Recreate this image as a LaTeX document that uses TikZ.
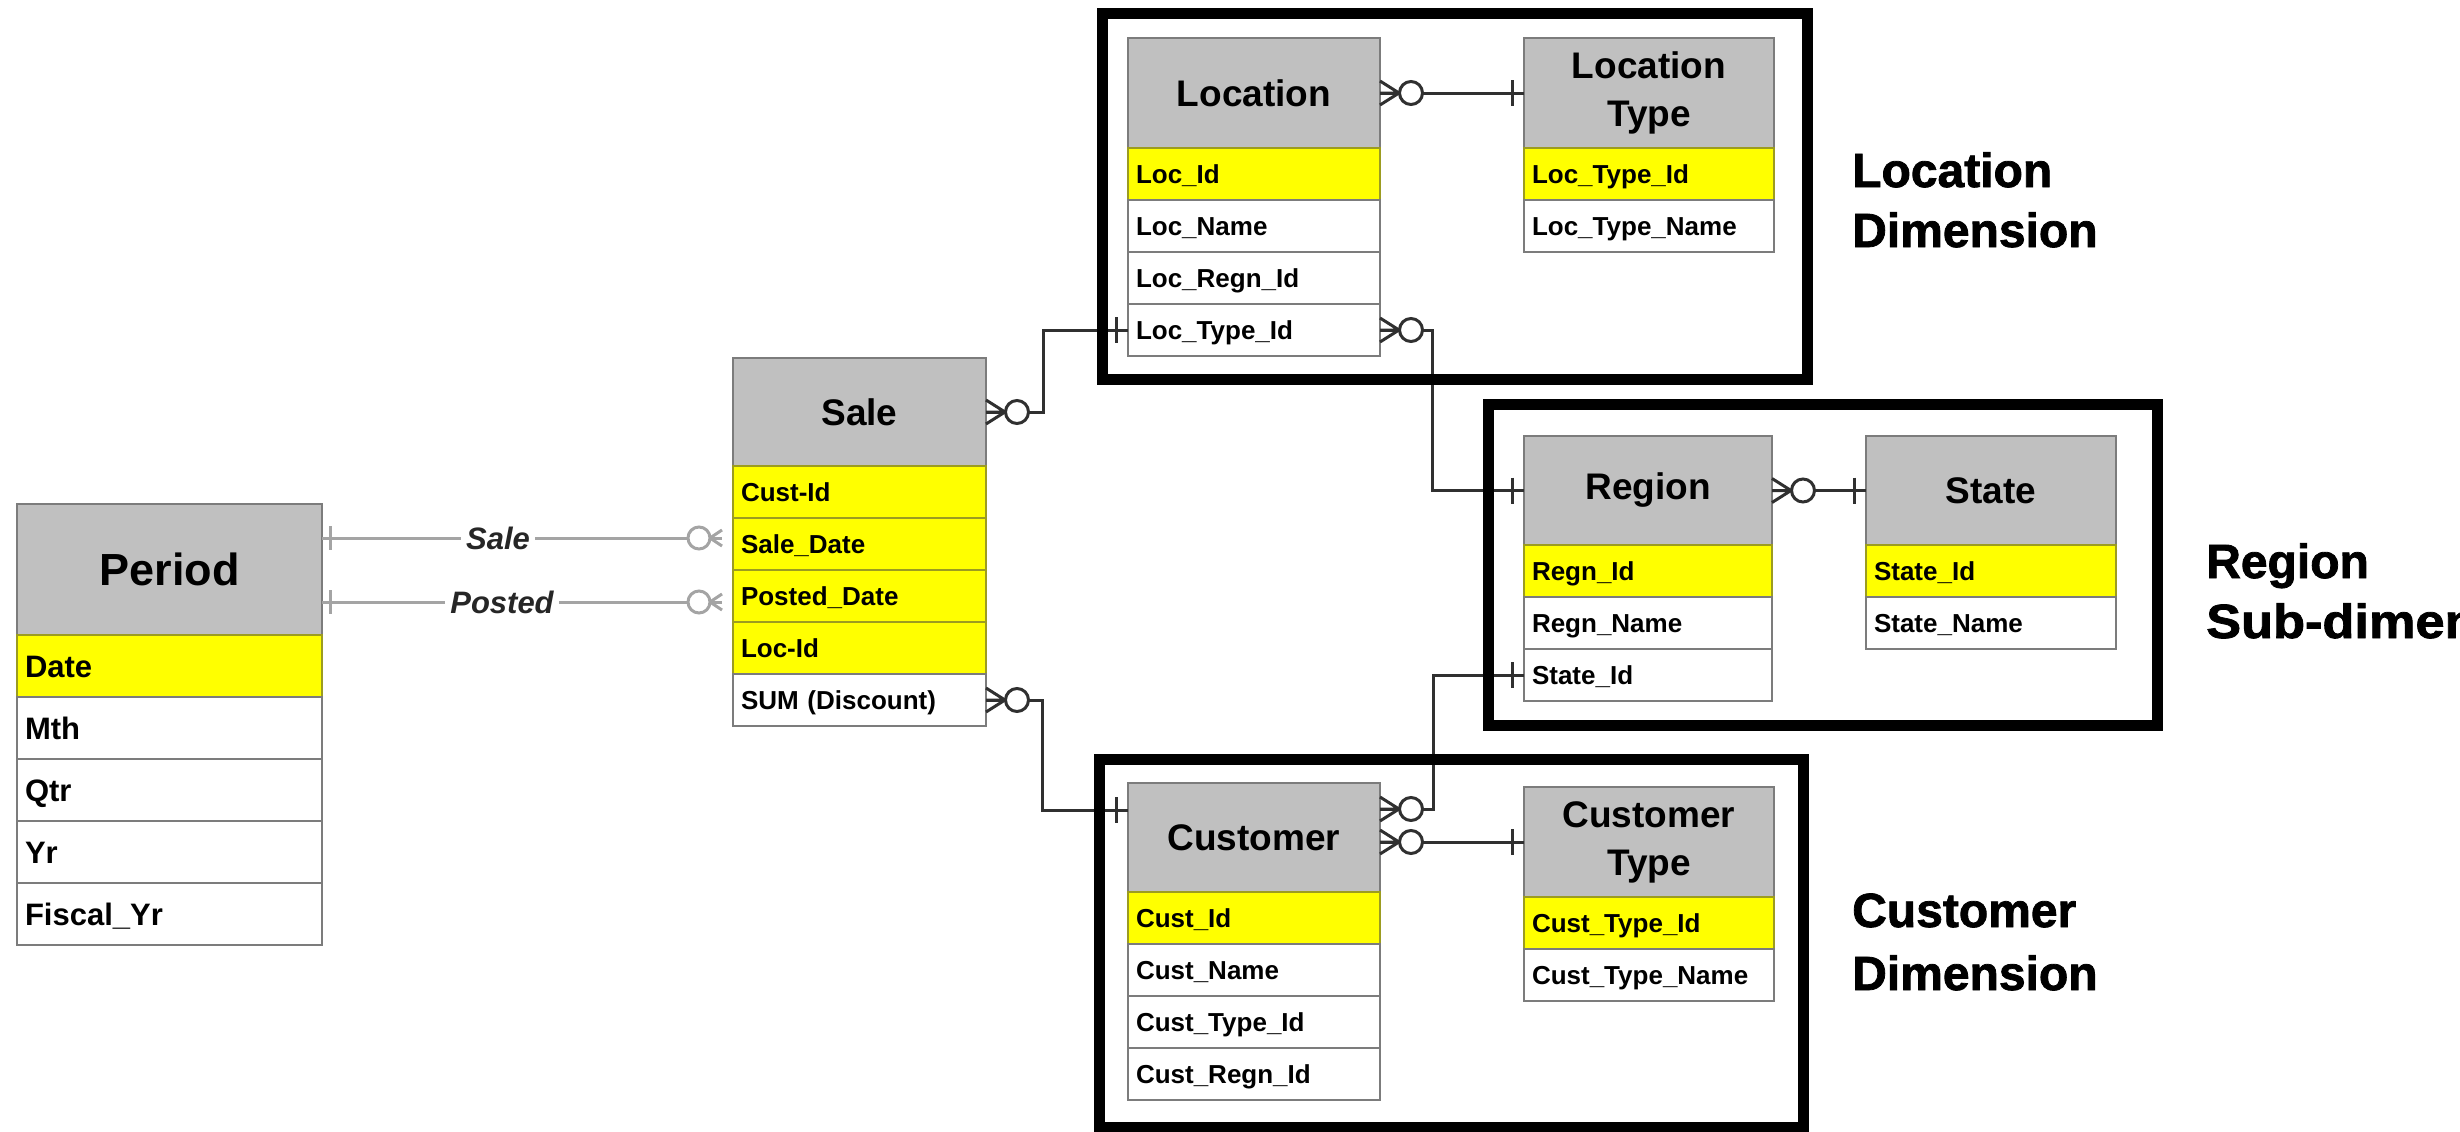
\documentclass[tikz,border=0pt]{standalone}
\usepackage{fontspec}
\setmainfont{Liberation Sans}
\newfontfamily\dimfont{Liberation Sans}[BoldFeatures={FakeBold=1.6}]
\definecolor{hdrgrey}{HTML}{C0C0C0}
\definecolor{keyyel}{HTML}{FFFF00}
\definecolor{edgegrey}{HTML}{7C7C7C}
\definecolor{keyedge}{HTML}{9C9C20}
\definecolor{linkdark}{HTML}{303030}
\definecolor{linklight}{HTML}{A4A4A4}
\tikzset{
  hdr/.style={draw=edgegrey, line width=2.5pt, fill=hdrgrey, anchor=north west,
    inner sep=0pt, outer sep=0pt, align=center,
    font=\fontsize{37}{48}\selectfont\bfseries},
  fld/.style={draw=edgegrey, line width=2.5pt, fill=white, anchor=north west,
    inner xsep=8pt, inner ysep=0pt, outer sep=0pt, align=left,
    font=\fontsize{26}{30}\selectfont\bfseries, text height=18.5pt, text depth=0pt},
  pfld/.style={fld, font=\fontsize{31}{36}\selectfont\bfseries, text height=22pt,
    text width=289pt, minimum height=62pt},
  key/.style={fill=keyyel, draw=keyedge},
  link/.style={draw=linkdark, line width=3pt},
  lightlink/.style={draw=linklight, line width=3pt},
  frame/.style={draw=black, line width=11pt},
  dimlabel/.style={anchor=base west, inner sep=0pt,
    font=\fontsize{48}{60}\selectfont\dimfont\bfseries},
  rellabel/.style={fill=white, inner xsep=5pt, inner ysep=2pt, text=black!85,
    font=\fontsize{31}{36}\selectfont\bfseries\itshape},
  % zero-or-many end, attached to an east side
  crowE/.pic={
    \draw[link] (0,12) -- (19,0) -- (0,-12) (0,0) -- (19,0);
    \draw[link, fill=white] (31,0) circle (11.5);
  },
  % one end, tick just outside a west side
  tickW/.pic={\draw[link] (-12,13) -- (-12,-13);},
  % light one end beside an east side
  tickEl/.pic={\draw[lightlink] (8,12) -- (8,-12);},
  % light zero-or-many end, attached to a west side
  crowWl/.pic={
    \draw[lightlink] (-23,0) -- (-11,8) (-23,0) -- (-11,-8);
    \draw[lightlink, fill=white] (-34,0) circle (11);
  },
}
\begin{document}
\begin{tikzpicture}[x=1pt,y=1pt]
\useasboundingbox (0,0) rectangle (2460,-1132);
\clip (0,0) rectangle (2460,-1132);

% ---------- Period ----------
\node[hdr, font=\fontsize{45}{54}\selectfont\bfseries, minimum width=305pt, minimum height=131pt] (period) at (17,-504) {Period};
\node[pfld, key] (pdate) at (period.south west) {Date};
\node[pfld] (pmth) at (pdate.south west) {Mth};
\node[pfld] (pqtr) at (pmth.south west) {Qtr};
\node[pfld] (pyr) at (pqtr.south west) {Yr};
\node[pfld] (pfyr) at (pyr.south west) {Fiscal\_Yr};

% ---------- Sale ----------
\tikzset{sw/.style={fld, text width=237pt, minimum height=52pt}}
\node[hdr, minimum width=253pt, minimum height=108pt] (sale) at (733,-358) {Sale};
\node[sw, key] (salecust) at (sale.south west) {Cust-Id};
\node[sw, key] (saledate) at (salecust.south west) {Sale\_Date};
\node[sw, key] (saleposted) at (saledate.south west) {Posted\_Date};
\node[sw, key] (saleloc) at (saleposted.south west) {Loc-Id};
\node[sw] (salesum) at (saleloc.south west) {SUM (Discount)};

% ---------- Location ----------
\tikzset{lw/.style={fld, text width=236pt, minimum height=52pt}}
\node[hdr, minimum width=252pt, minimum height=110pt] (loc) at (1128,-38) {Location};
\node[lw, key] (locid) at (loc.south west) {Loc\_Id};
\node[lw] (locname) at (locid.south west) {Loc\_Name};
\node[lw] (locregn) at (locname.south west) {Loc\_Regn\_Id};
\node[lw] (loctypeid) at (locregn.south west) {Loc\_Type\_Id};

% ---------- Location Type ----------
\tikzset{ltw/.style={fld, text width=234pt, minimum height=52pt}}
\node[hdr, minimum width=250pt, minimum height=110pt] (loctype) at (1524,-38) {Location\\Type};
\node[ltw, key] (ltid) at (loctype.south west) {Loc\_Type\_Id};
\node[ltw] (ltname) at (ltid.south west) {Loc\_Type\_Name};

% ---------- Region ----------
\tikzset{rw/.style={fld, text width=232pt, minimum height=52pt}}
\node[hdr, minimum width=248pt, minimum height=109pt] (region) at (1524,-436) {Region};
\node[rw, key] (regid) at (region.south west) {Regn\_Id};
\node[rw] (regname) at (regid.south west) {Regn\_Name};
\node[rw] (regstateid) at (regname.south west) {State\_Id};

% ---------- State ----------
\tikzset{stw/.style={fld, text width=234pt, minimum height=52pt}}
\node[hdr, minimum width=250pt, minimum height=109pt] (state) at (1866,-436) {State};
\node[stw, key] (stid) at (state.south west) {State\_Id};
\node[stw] (stname) at (stid.south west) {State\_Name};

% ---------- Customer ----------
\tikzset{cw/.style={fld, text width=236pt, minimum height=52pt}}
\node[hdr, minimum width=252pt, minimum height=109pt] (cust) at (1128,-783) {Customer};
\node[cw, key] (custid) at (cust.south west) {Cust\_Id};
\node[cw] (custname) at (custid.south west) {Cust\_Name};
\node[cw] (custtype) at (custname.south west) {Cust\_Type\_Id};
\node[cw] (custregn) at (custtype.south west) {Cust\_Regn\_Id};

% ---------- Customer Type ----------
\tikzset{ctw/.style={fld, text width=234pt, minimum height=52pt}}
\node[hdr, minimum width=250pt, minimum height=110pt] (ctype) at (1524,-787) {Customer\\Type};
\node[ctw, key] (ctid) at (ctype.south west) {Cust\_Type\_Id};
\node[ctw] (ctname) at (ctid.south west) {Cust\_Type\_Name};

% ---------- relationships ----------
\coordinate (custup) at ([yshift=28.5pt]cust.east);
\coordinate (custin) at ([yshift=27.5pt]cust.west);
\coordinate (custlow) at (cust.east |- ctype.west);
\coordinate (pSaleA) at (period.east |- 0,-538);
\coordinate (pSaleB) at (sale.west |- 0,-538);
\coordinate (pPostA) at (period.east |- 0,-602);
\coordinate (pPostB) at (sale.west |- 0,-602);

\draw[link] (sale.east) -- ++(57,0) |- (loctypeid.west);
\draw[link] (loctypeid.east) -- ++(52,0) |- (region.west);
\draw[link] (loc.east) -- (loctype.west);
\draw[link] (region.east) -- (state.west);
\draw[link] (custup) -- ++(53,0) |- (regstateid.west);
\draw[link] (custlow) -- (ctype.west);
\draw[link] (salesum.east) -- ++(56,0) |- (custin);

\draw[lightlink] (pSaleA) -- ([xshift=-11pt]pSaleB);
\draw[lightlink] (pPostA) -- ([xshift=-11pt]pPostB);
\node[rellabel] (lblsale) at (498,-538) {Sale};
\node[rellabel] (lblposted) at (502,-602) {Posted};

% relationship ends
\pic at (sale.east) {crowE};
\pic at (loctypeid.east) {crowE};
\pic at (loc.east) {crowE};
\pic at (region.east) {crowE};
\pic at (custup) {crowE};
\pic at (custlow) {crowE};
\pic at (salesum.east) {crowE};
\pic at (loctypeid.west) {tickW};
\pic at (region.west) {tickW};
\pic at (loctype.west) {tickW};
\pic at (state.west) {tickW};
\pic at (regstateid.west) {tickW};
\pic at (ctype.west) {tickW};
\pic at (custin) {tickW};
\pic at (pSaleA) {tickEl};
\pic at (pPostA) {tickEl};
\pic at (pSaleB) {crowWl};
\pic at (pPostB) {crowWl};

% ---------- dimension frames ----------
\draw[frame] (1102,-14) rectangle (1807,-379);
\draw[frame] (1488,-404) rectangle (2157,-725);
\draw[frame] (1099,-759) rectangle (1803,-1127);

\node[dimlabel] (locdimA) at (1852,-187) {Location};
\node[dimlabel] (locdimB) at (1852,-247) {Dimension};
\node[dimlabel] (regdimA) at (2206,-578) {Region};
\node[dimlabel, xscale=1.09, transform shape] (regdimB) at (2206,-638) {Sub-dimension};
\node[dimlabel] (custdimA) at (1852,-927) {Customer};
\node[dimlabel] (custdimB) at (1852,-990) {Dimension};
\end{tikzpicture}
\end{document}
